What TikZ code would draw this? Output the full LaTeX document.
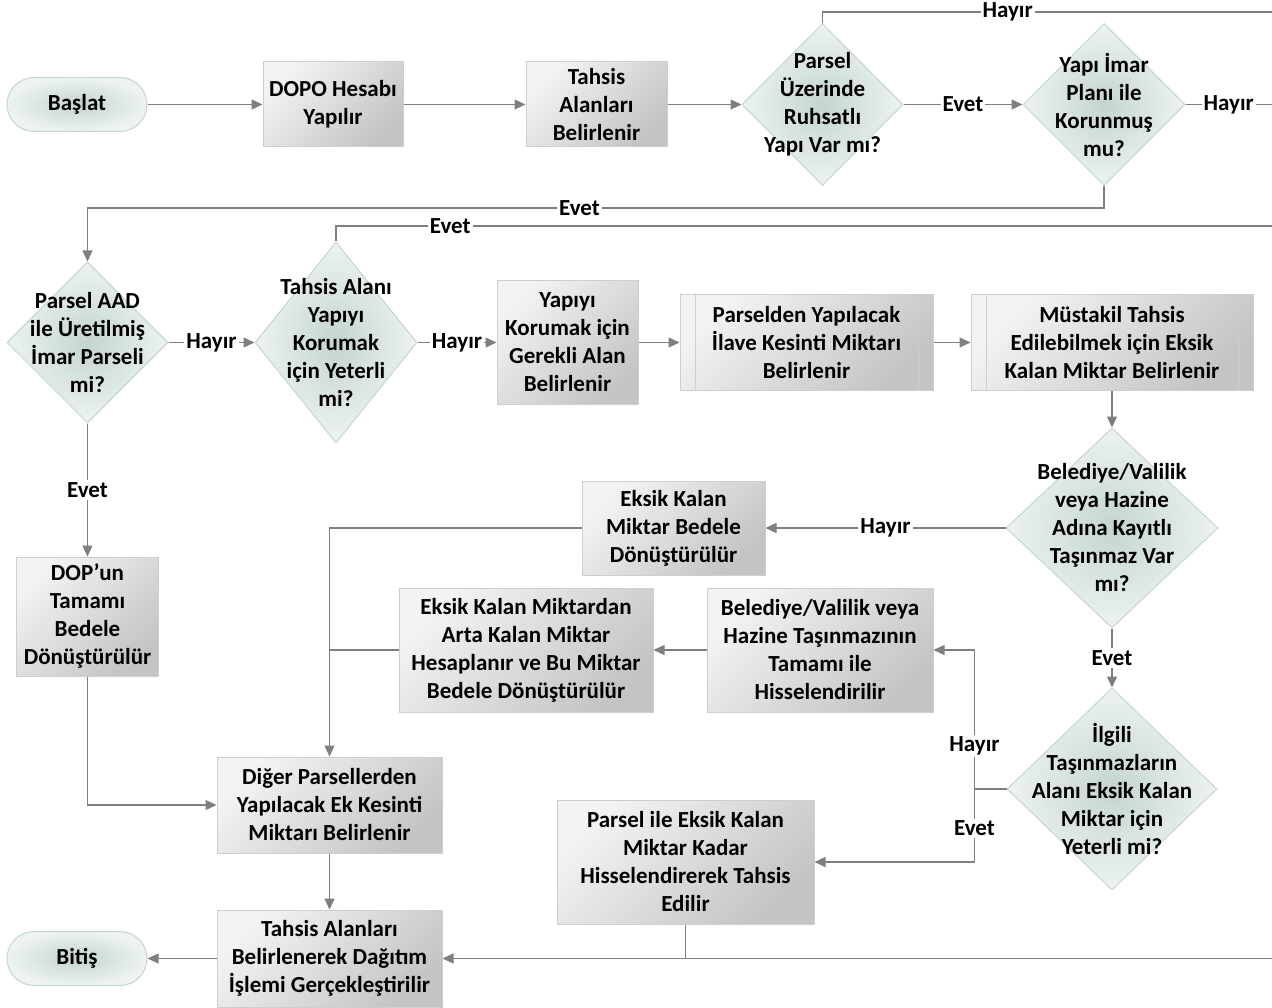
\documentclass[tikz,border=0pt]{standalone}
\usepackage{fontspec}
\setmainfont{Carlito}
\usetikzlibrary{shapes.geometric,arrows.meta}
\definecolor{lnclr}{RGB}{127,127,127}
\definecolor{boxlt}{RGB}{243,243,243}
\definecolor{boxdk}{RGB}{196,196,196}
\definecolor{boxbd}{RGB}{206,206,206}
\definecolor{decin}{RGB}{196,213,206}
\definecolor{decout}{RGB}{237,243,240}
\definecolor{decbd}{RGB}{196,214,206}
\begin{document}
\begin{tikzpicture}[x=1pt,y=-1pt,
  every node/.style={font=\fontsize{23}{28}\selectfont\bfseries,align=center},
  proc/.style={rectangle,draw=boxbd,line width=1pt,top color=boxlt,
    bottom color=boxdk,shading angle=45,inner sep=0pt},
  predef/.style={proc,path picture={
    \draw[boxbd,line width=1pt]
      ([xshift=15pt]path picture bounding box.north west)
      --([xshift=15pt]path picture bounding box.south west)
      ([xshift=-15pt]path picture bounding box.north east)
      --([xshift=-15pt]path picture bounding box.south east);}},
  decision/.style={diamond,draw=decbd,line width=1pt,inner color=decin,
    outer color=decout,inner sep=0pt},
  term/.style={rectangle,rounded corners=27pt,draw=decbd,line width=1pt,
    inner color=decin,outer color=decout,minimum width=140pt,minimum height=54pt},
  dtext/.style={inner sep=0pt},
  conn/.style={draw=lnclr,line width=1.2pt,-{Triangle[length=11pt,width=10pt]}},
  wire/.style={draw=lnclr,line width=1.2pt},
  lbl/.style={fill=white,inner sep=2pt}]
\useasboundingbox (0,0) rectangle (1272,1008);
% first row
\node[term] (basla) at (77,104.5) {Başlat};
\node[proc,minimum width=140pt,minimum height=85pt] (dopo) at (333,104.5) {DOPO Hesabı\\Yapılır};
\node[proc,minimum width=141pt,minimum height=85pt] (tah1) at (596.5,104.5) {Tahsis\\Alanları\\Belirlenir};
\node[decision,minimum width=161pt,minimum height=162pt,
  label={[dtext]center:Parsel\\Üzerinde\\Ruhsatlı\\Yapı Var mı?}] (ruhsat) at (822.5,104.5) {};
\node[decision,minimum width=162pt,minimum height=162pt,
  label={[dtext]center:Yapı İmar\\Planı ile\\Korunmuş\\mu?}] (koru) at (1104,104.5) {};
% second row
\node[decision,minimum width=161pt,minimum height=161pt,
  label={[dtext]center:Parsel AAD\\ile Üretilmiş\\İmar Parseli\\mi?}] (aad) at (87.5,342.5) {};
\node[decision,minimum width=162pt,minimum height=201pt,
  label={[dtext]center:Tahsis Alanı\\Yapıyı\\Korumak\\için Yeterli\\mi?}] (yeter) at (336,342.5) {};
\node[proc,minimum width=141pt,minimum height=124pt] (gerek) at (567.5,342.5) {Yapıyı\\Korumak için\\Gerekli Alan\\Belirlenir};
\node[predef,minimum width=253pt,minimum height=96pt] (ilave) at (806.5,342.5) {Parselden Yapılacak\\İlave Kesinti Miktarı\\Belirlenir};
\node[predef,minimum width=282pt,minimum height=96pt] (mustakil) at (1112,342.5) {Müstakil Tahsis\\Edilebilmek için Eksik\\Kalan Miktar Belirlenir};
% right column
\node[decision,minimum width=212pt,minimum height=200pt,
  label={[dtext]center:Belediye/Valilik\\veya Hazine\\Adına Kayıtlı\\Taşınmaz Var\\mı?}] (kayit) at (1112,528) {};
\node[decision,minimum width=210pt,minimum height=202pt,
  label={[dtext]center:İlgili\\Taşınmazların\\Alanı Eksik Kalan\\Miktar için\\Yeterli mi?}] (ilgili) at (1112,789) {};
% middle
\node[proc,minimum width=183pt,minimum height=94pt] (bedel) at (673.5,528) {Eksik Kalan\\Miktar Bedele\\Dönüştürülür};
\node[proc,minimum width=254pt,minimum height=124pt] (arta) at (526,650) {Eksik Kalan Miktardan\\Arta Kalan Miktar\\Hesaplanır ve Bu Miktar\\Bedele Dönüştürülür};
\node[proc,minimum width=226pt,minimum height=124pt] (tamami) at (820,650) {Belediye/Valilik veya\\Hazine Taşınmazının\\Tamamı ile\\Hisselendirilir};
\node[proc,minimum width=257pt,minimum height=124pt] (hisse) at (685.5,862) {Parsel ile Eksik Kalan\\Miktar Kadar\\Hisselendirerek Tahsis\\Edilir};
% left column
\node[proc,minimum width=142pt,minimum height=119pt] (dopbedel) at (87.5,616.5) {DOP’un\\Tamamı\\Bedele\\Dönüştürülür};
\node[proc,minimum width=225pt,minimum height=96pt] (ekkes) at (329.5,805) {Diğer Parsellerden\\Yapılacak Ek Kesinti\\Miktarı Belirlenir};
\node[proc,minimum width=225pt,minimum height=97pt] (dagit) at (329.5,958.5) {Tahsis Alanları\\Belirlenerek Dağıtım\\İşlemi Gerçekleştirilir};
\node[term] (bitis) at (77,958.5) {Bitiş};
% lines leaving the page
\coordinate (r1) at (1272,12);
\coordinate (r2) at (1272,104.5);
\coordinate (r3) at (1272,226);
\coordinate (r4) at (1272,958.5);
% connectors
\draw[conn] (basla.east) -- (dopo.west);
\draw[conn] (dopo.east) -- (tah1.west);
\draw[conn] (tah1.east) -- (ruhsat.west);
\draw[conn] (ruhsat.east) -- node[lbl]{Evet} (koru.west);
\draw[wire] (ruhsat.north) |- node[lbl,pos=0.706]{Hayır} (r1);
\draw[wire] (koru.east) -- node[lbl]{Hayır} (r2);
\draw[conn] (koru.south) -- ++(0,22) -| node[lbl,pos=0.258]{Evet} (aad.north);
\draw[wire] (yeter.north) |- node[lbl,pos=0.561]{Evet} (r3);
\draw[conn] (aad.east) -- node[lbl]{Hayır} (yeter.west);
\draw[conn] (yeter.east) -- node[lbl]{Hayır} (gerek.west);
\draw[conn] (gerek.east) -- (ilave.west);
\draw[conn] (ilave.east) -- (mustakil.west);
\draw[conn] (mustakil.south) -- (kayit.north);
\draw[conn] (kayit.west) -- node[lbl]{Hayır} (bedel.east);
\draw[conn] (kayit.south) -- node[lbl]{Evet} (ilgili.north);
\draw[conn] (bedel.west) -| (ekkes.north);
\draw[wire] (arta.west) -- (arta.west -| ekkes.north);
\draw[conn] (tamami.west) -- (arta.east);
\draw[wire] (ilgili.west) -- ++(-32,0) coordinate (j1);
\draw[conn] (j1) |- node[lbl,pos=0.155]{Hayır} (tamami.east);
\draw[conn] (j1) |- node[lbl,pos=0.27]{Evet} (hisse.east);
\draw[wire] (hisse.south) -- (hisse.south |- dagit.east);
\draw[conn] (r4) -- (dagit.east);
\draw[conn] (aad.south) -- node[lbl]{Evet} (dopbedel.north);
\draw[conn] (dopbedel.south) |- (ekkes.west);
\draw[conn] (ekkes.south) -- (dagit.north);
\draw[conn] (dagit.west) -- (bitis.east);
\end{tikzpicture}
\end{document}
